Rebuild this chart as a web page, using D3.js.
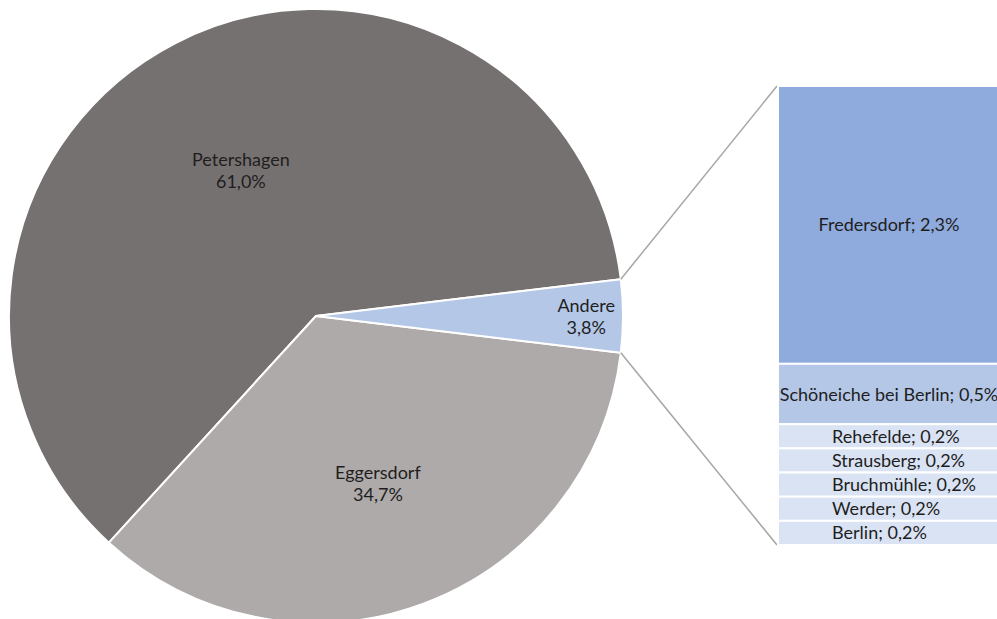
<!DOCTYPE html>
<html>
<head>
<meta charset="utf-8">
<script src="https://cdn.jsdelivr.net/npm/d3@7/dist/d3.min.js"></script>
<style>
  html, body { margin: 0; padding: 0; background: #ffffff; }
  svg { display: block; }
  text { font-family: Lato, "Liberation Sans", sans-serif; font-size: 18px; fill: #1e1e1e; }
</style>
</head>
<body>
<svg id="chart" width="997" height="619"></svg>
<script>
// Pie: main places plus the combined "Andere" slice
const pieNames  = ["Petershagen", "Eggersdorf", "Andere"];
const pieValues = [61.0, 34.7, 3.8];
const pieLabels = ["61,0%", "34,7%", "3,8%"];

// Stacked bar that breaks down "Andere"
const barNames  = ["Fredersdorf", "Schöneiche bei Berlin", "Rehefelde", "Strausberg", "Bruchmühle", "Werder", "Berlin"];
const barValues = [2.3, 0.5, 0.2, 0.2, 0.2, 0.2, 0.2];
const barLabels = ["2,3%", "0,5%", "0,2%", "0,2%", "0,2%", "0,2%", "0,2%"];

const pieColors = ["#767171", "#aeaaaa", "#b4c7e7"];
const barColors = ["#8faadc", "#b4c7e7", "#dae3f3", "#dae3f3", "#dae3f3", "#dae3f3", "#dae3f3"];

const svg = d3.select("#chart");
const cx = 316, cy = 316, radius = 307;

// Rotate the pie so the "Andere" slice is centred on the right-hand side
const total = d3.sum(pieValues);
const otherIdx = pieNames.indexOf("Andere");
const otherAngle = 2 * Math.PI * pieValues[otherIdx] / total;
const start = Math.PI / 2 - otherAngle / 2;

const pie = d3.pie().sort(null).value(d => d.value)
  .startAngle(start).endAngle(start - 2 * Math.PI);
const arcs = pie(pieNames.map((n, i) => ({ name: n, value: pieValues[i], label: pieLabels[i], color: pieColors[i] })));

const arc = d3.arc().innerRadius(0).outerRadius(radius);
const g = svg.append("g").attr("transform", `translate(${cx},${cy})`);

g.selectAll("path.slice").data(arcs).join("path")
  .attr("class", "slice")
  .attr("d", arc)
  .attr("fill", d => d.data.color)
  .attr("stroke", "#ffffff")
  .attr("stroke-width", 2)
  .attr("stroke-linejoin", "round");

// label distance from centre, as a share of the radius
const labelRatio = { "Petershagen": 0.535, "Eggersdorf": 0.58, "Andere": 0.88 };
arcs.forEach(d => {
  const r = radius * labelRatio[d.data.name];
  const p = d3.arc().innerRadius(r).outerRadius(r).centroid(d);
  const t = g.append("text").attr("text-anchor", "middle");
  t.append("tspan").attr("x", p[0]).attr("y", p[1] - 4).text(d.data.name);
  t.append("tspan").attr("x", p[0]).attr("y", p[1] + 18).text(d.data.label);
});

// Bar of "Andere"
const barX = 778, barW = 222;
const y = d3.scaleLinear().domain([0, d3.sum(barValues)]).range([86, 545]);
const cum = d3.cumsum(barValues);
const segs = barNames.map((n, i) => ({
  name: n, value: barValues[i], label: barLabels[i], color: barColors[i],
  y0: i === 0 ? 0 : cum[i - 1], y1: cum[i]
}));

// connector lines from the slice edges to the bar corners
const other = arcs[otherIdx];
const pt = a => [cx + radius * Math.sin(a), cy - radius * Math.cos(a)];
const edgeA = pt(other.startAngle), edgeB = pt(other.endAngle);
const topPt = edgeA[1] < edgeB[1] ? edgeA : edgeB;
const botPt = edgeA[1] < edgeB[1] ? edgeB : edgeA;
svg.append("line").attr("x1", topPt[0]).attr("y1", topPt[1]).attr("x2", barX - 1).attr("y2", y(0))
  .attr("stroke", "#a6a6a6").attr("stroke-width", 1.5);
svg.append("line").attr("x1", botPt[0]).attr("y1", botPt[1]).attr("x2", barX - 1).attr("y2", y(d3.sum(barValues)))
  .attr("stroke", "#a6a6a6").attr("stroke-width", 1.5);

svg.selectAll("rect.seg").data(segs).join("rect")
  .attr("class", "seg")
  .attr("x", barX)
  .attr("y", d => y(d.y0))
  .attr("width", barW)
  .attr("height", d => y(d.y1) - y(d.y0))
  .attr("fill", d => d.color)
  .attr("stroke", "#ffffff")
  .attr("stroke-width", 2);

svg.selectAll("text.seglabel").data(segs).join("text")
  .attr("class", "seglabel")
  .attr("text-anchor", d => d.value >= 0.5 ? "middle" : "start")
  .attr("x", d => d.value >= 0.5 ? barX + barW / 2 : barX + 54)
  .attr("y", d => (y(d.y0) + y(d.y1)) / 2 + 6.5)
  .text(d => `${d.name}; ${d.label}`);
</script>
</body>
</html>
